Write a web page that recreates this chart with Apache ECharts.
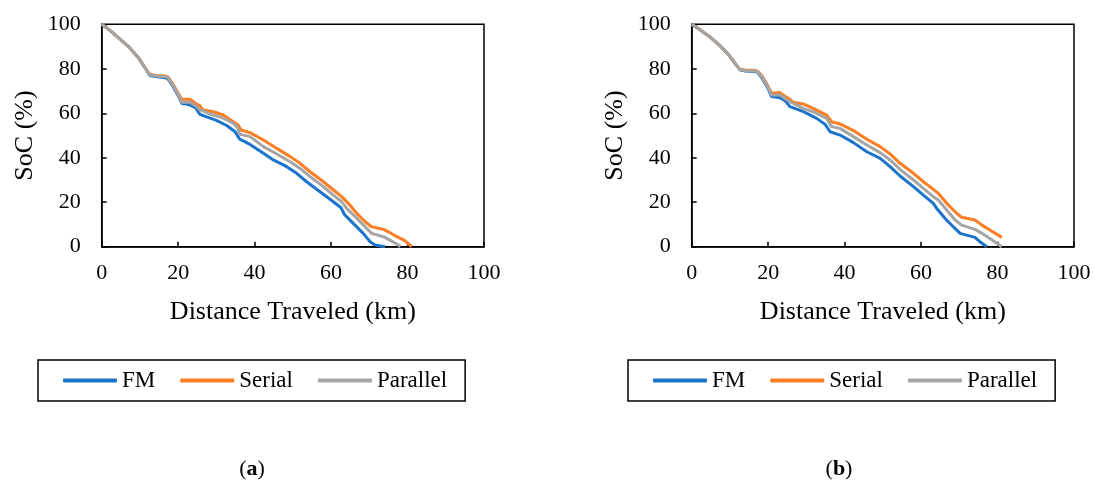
<!DOCTYPE html>
<html>
<head>
<meta charset="utf-8">
<script src="https://cdn.jsdelivr.net/npm/echarts@6/dist/echarts.min.js"></script>
<style>html,body{margin:0;padding:0;background:#fff}#c{width:1094px;height:486px}</style>
</head>
<body>
<div id="c"></div>
<script>
// Panel (a): [distance km, SoC %]
var fmA = [[0,100],[2,97.5],[5,93],[7,90],[9.6,85],[11.3,80.5],[12.6,77],[14,76.5],[16.5,76],[17.3,75.5],[18.5,72.5],[20,68],[20.9,64.5],[23,63.8],[24.5,62.5],[25.7,59.5],[28,58],[30,56.8],[32.7,54.5],[34.9,51.7],[36,48.5],[38.8,46],[42.3,42],[44.9,39],[48.4,36],[51,33],[53.6,29.2],[57.1,24.7],[60.6,20.2],[62.6,17.5],[63.5,14.5],[65.8,10.5],[68.4,6],[70.2,2.2],[71.5,0.8],[74.1,0]];
var serialA = [[0,100],[2,97.5],[5,93],[7,90],[9.6,85],[11.3,80.5],[12.6,77.5],[14,77],[16.5,76.8],[17.3,76.3],[18.5,73.5],[20,69],[20.9,66.3],[23.1,66.3],[24.5,64.5],[25.7,63.3],[26.5,61.5],[29.2,60.7],[31.8,59.2],[34.4,56.2],[35.7,54.7],[36.4,52.5],[38.8,51.3],[42.3,48],[45.8,44.2],[49.3,40.5],[51.9,37.5],[54.5,33.7],[58,29.2],[60.6,25.5],[62.8,22.5],[64.5,19.5],[66.7,15],[68.9,11.2],[70.6,9],[73.7,7.8],[75,6.7],[77.2,4.5],[79.3,2.7],[81.1,0]];
var parallelA = [[0,100],[2,97.5],[5,93],[7,90],[9.6,85],[11.3,80.5],[12.6,77.2],[14,76.8],[16.5,76.4],[17.3,76],[18.5,73],[20,68.5],[20.9,65],[23,65],[24.5,63.5],[25.7,61.5],[29.2,59.2],[31.8,57.8],[34.4,55.5],[35.4,54],[36.2,50.5],[38.8,49.5],[42.3,45],[45.8,41.7],[49.3,38.2],[51.9,35.2],[54.5,31.5],[58,27],[60.6,23.2],[62.8,20.2],[64.1,17.2],[66.3,13.5],[68.9,9],[70.6,6],[73.7,4.5],[75,3.3],[77.2,1.2],[78.1,0]];
// Panel (b)
var fmB = [[0,100],[2,97.8],[5,94],[7,91],[9.6,86.5],[11.3,82.5],[12.6,79.5],[14,79],[16.5,78.8],[17.3,78.3],[18.5,75.5],[20,71],[20.9,67.5],[23.1,67],[24.5,65.5],[25.7,63],[29.2,60.7],[32.7,57.7],[34.9,55],[36.2,51.7],[38.8,50.2],[42.3,46.8],[45.8,42.7],[49.3,39.7],[51.9,36],[54.5,31.8],[58,27],[60.6,23.2],[63.2,19.5],[64.1,17.2],[66.3,12.7],[68.4,9],[70.2,6],[71.9,5.2],[74.1,4.2],[75.4,2.2],[77.2,0]];
var serialB = [[0,100],[2,97.8],[5,94],[7,91],[9.6,86.5],[11.3,82.5],[12.6,79.8],[14,79.5],[16.5,79.3],[17.3,78.8],[18.5,76.5],[20,72],[20.9,69],[23.1,69.3],[24.5,67.5],[25.7,66.3],[26.5,65],[29.2,64.2],[31.8,62.2],[35.3,59.2],[36.6,56.2],[38.8,55.2],[42.3,52.2],[45.8,48.3],[49.3,45],[51.9,41.7],[54.5,37.5],[58,33],[60.6,29.2],[63.2,25.8],[64.5,24],[66.7,19.5],[68.9,15.7],[70.6,13.2],[74.1,12],[75.9,9.7],[78,7.5],[81.1,4.2]];
var parallelB = [[0,100],[2,97.8],[5,94],[7,91],[9.6,86.5],[11.3,82.5],[12.6,79.6],[14,79.2],[16.5,79],[17.3,78.5],[18.5,76],[20,71.5],[20.9,68.2],[23.1,68.2],[24.5,66.5],[25.7,65.2],[29.2,62.2],[32,60.5],[35.3,57.7],[36.6,54],[38.8,53.2],[42.3,49.5],[45.8,45.7],[49.3,42.3],[51.9,39],[54.5,34.8],[58,30],[60.6,26.2],[63.2,22.5],[64.5,21],[66.7,16.5],[68.9,12],[70.6,9.7],[74.1,7.8],[75.9,6],[78,3.7],[81.1,0]];
var seriesNames = ['FM','Serial','Parallel'];
var seriesColors = ['#1b74cc','#fb7d24','#a5a5a5'];
var captions = ['a','b'];

var FONT = '"Liberation Serif","Times New Roman",serif';
var chart = echarts.init(document.getElementById('c'), null, {renderer:'canvas'});

function xAx(gi){
  return {type:'value', gridIndex:gi, min:0, max:100, interval:20,
    name:'Distance Traveled (km)', nameLocation:'middle', nameGap:52,
    nameTextStyle:{fontFamily:FONT, fontSize:26, color:'#000'},
    axisLine:{lineStyle:{color:'#000', width:1.5}},
    axisTick:{inside:true, length:5, lineStyle:{color:'#000', width:1.5}},
    axisLabel:{fontFamily:FONT, fontSize:22, color:'#000', margin:16},
    splitLine:{show:false}};
}
function yAx(gi){
  return {type:'value', gridIndex:gi, min:0, max:100, interval:20,
    name:'SoC (%)', nameLocation:'middle', nameGap:64,
    nameTextStyle:{fontFamily:FONT, fontSize:26, color:'#000'},
    axisLine:{show:true, lineStyle:{color:'#000', width:1.5}},
    axisTick:{show:true, inside:true, length:5, lineStyle:{color:'#000', width:1.5}},
    axisLabel:{fontFamily:FONT, fontSize:22, color:'#000', margin:21},
    splitLine:{show:false}};
}
function legend(left){
  return {left:left, top:360, orient:'horizontal', data:seriesNames,
    borderColor:'#000', borderWidth:1.5, padding:[9,18,9,25], itemGap:25,
    itemWidth:54, itemHeight:4, icon:'roundRect', selectedMode:false,
    textStyle:{fontFamily:FONT, fontSize:23, color:'#000'}};
}
var panels = [[fmA, serialA, parallelA],[fmB, serialB, parallelB]];
var series = [];
panels.forEach(function(p, gi){
  p.forEach(function(d, si){
    series.push({type:'line', name:seriesNames[si], xAxisIndex:gi, yAxisIndex:gi,
      data:d, showSymbol:false, symbol:'none', smooth:false,
      color:seriesColors[si], lineStyle:{width:3, color:seriesColors[si]}, z:2+si});
  });
});

chart.setOption({
  animation:false,
  backgroundColor:'#fff',
  color:seriesColors,
  grid:[
    {left:101.7, top:24.3, width:382.3, height:222.4, show:true, borderColor:'#000', borderWidth:1.5, backgroundColor:'transparent'},
    {left:691.7, top:24.3, width:382.3, height:222.4, show:true, borderColor:'#000', borderWidth:1.5, backgroundColor:'transparent'}
  ],
  xAxis:[xAx(0), xAx(1)],
  yAxis:[yAx(0), yAx(1)],
  legend:[legend(38), legend(628)],
  series:series,
  graphic:[
    {type:'text', x:252, y:469, style:{text:'({b|'+captions[0]+'})', fontFamily:FONT, fontSize:22, fill:'#000', align:'center', verticalAlign:'middle', rich:{b:{fontFamily:FONT, fontSize:22, fontWeight:'bold', fill:'#000'}}}},
    {type:'text', x:839, y:469, style:{text:'({b|'+captions[1]+'})', fontFamily:FONT, fontSize:22, fill:'#000', align:'center', verticalAlign:'middle', rich:{b:{fontFamily:FONT, fontSize:22, fontWeight:'bold', fill:'#000'}}}}
  ]
});
</script>
</body>
</html>
